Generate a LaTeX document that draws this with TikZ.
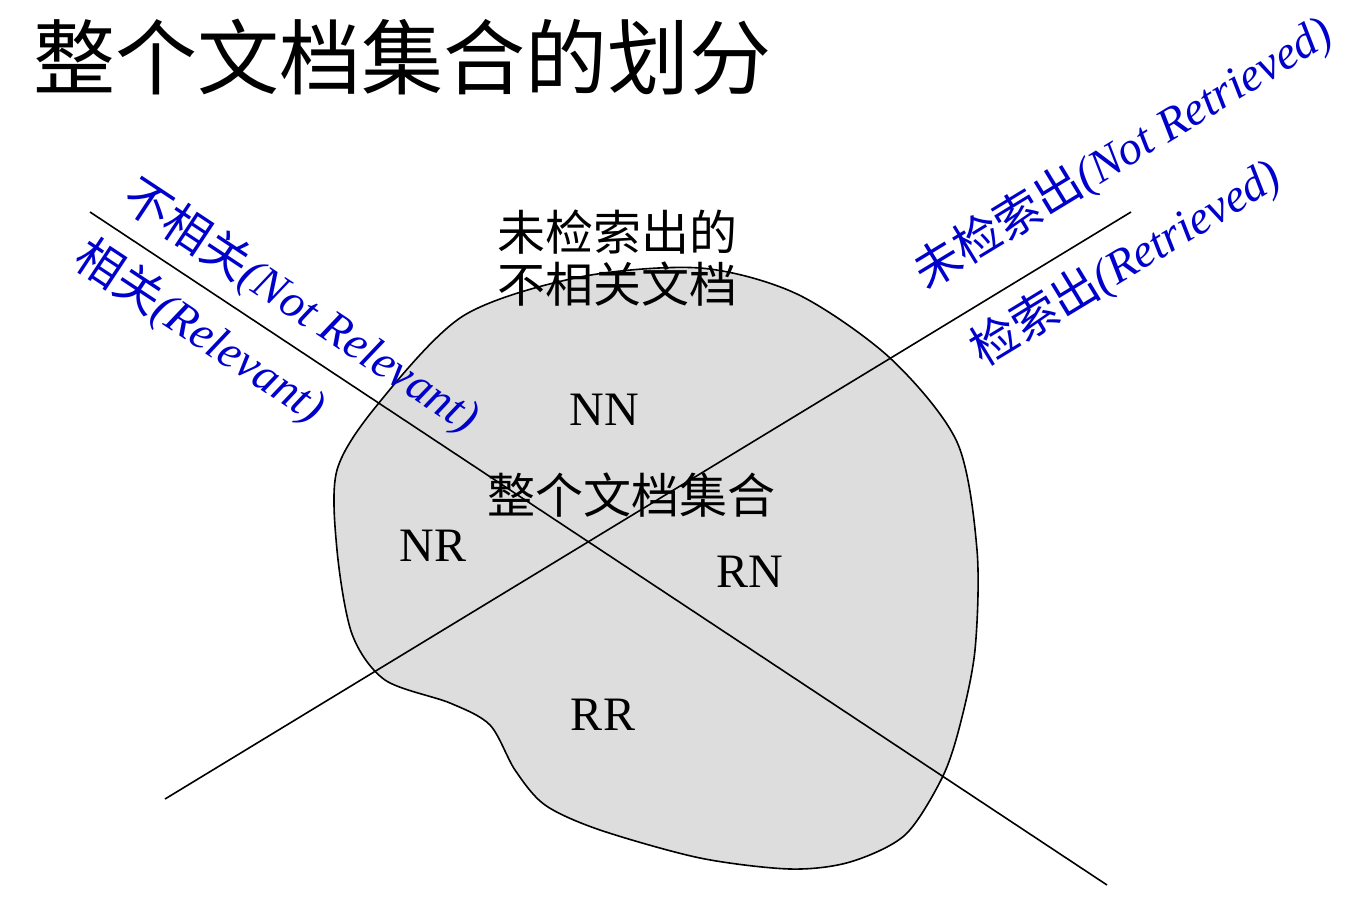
\documentclass[tikz,border=0pt]{standalone}
\usepackage{fontspec}
\setmainfont{Liberation Serif}
\newfontfamily\cjk{Noto Sans CJK SC}
\usepackage{tikz}
\usetikzlibrary{positioning}
\definecolor{docblue}{RGB}{0,0,204}
\definecolor{docgray}{RGB}{221,221,221}

\begin{document}
\begin{tikzpicture}[x=1pt,y=-1pt,
  region/.style={font=\fontsize{48}{52}\selectfont,inner sep=0pt},
  zhlabel/.style={font=\cjk\fontsize{48}{52}\selectfont,align=center,inner sep=0pt},
  axislabel/.style={text=docblue,font=\fontsize{47}{50}\selectfont,inner sep=0pt},
  split/.style={line width=1.6pt}]
  \useasboundingbox (0,0) rectangle (1367,903);
  \fill[white] (0,0) rectangle (1367,903);

  % the whole document set
  \draw[line width=1.6pt,fill=docgray]
    plot[smooth cycle] coordinates {(700,268) (797,294) (890,358) (957,442) (977,550) (975,650) (960,725) (942,778) (905,835) (850,862) (790,869) (700,858) (600,830) (545,805) (515,770) (490,725) (450,703) (385,680) (352,634) (337,550) (337,470) (378,404) (463,316) (580,277)};

  \coordinate (relA) at (90,212);
  \coordinate (relB) at (1107,885);
  \coordinate (retA) at (165,799);
  \coordinate (retB) at (1131,212);
  \draw[split] (relA) -- (relB);
  \draw[split] (retA) -- (retB);

  \node[font=\cjk\fontsize{82}{90}\selectfont,inner sep=0pt] (title) at (402,57) {整个文档集合的划分};

  \node[zhlabel] (notret) at (617,258) {未检索出的\\不相关文档};
  \node[zhlabel] (whole) at (631,495) {整个文档集合};

  \node[region] (nn) at (604,410) {NN};
  \node[region] (nr) at (433,546) {NR};
  \node[region] (rn) at (750,572) {RN};
  \node[region] (rr) at (603,715) {RR};

  \node[axislabel,rotate=-33.5] (notrel) at (301,307) {{\cjk 不相关}\itshape(Not Relevant)};
  \node[axislabel,rotate=-33.5] (rel) at (200,332) {{\cjk 相关}\itshape(Relevant)};
  \node[axislabel,rotate=31.3] (notretr) at (1123,153) {{\cjk 未检索出}\itshape(Not Retrieved)};
  \node[axislabel,rotate=31.3] (retr) at (1126,263) {{\cjk 检索出}\itshape(Retrieved)};
\end{tikzpicture}
\end{document}
